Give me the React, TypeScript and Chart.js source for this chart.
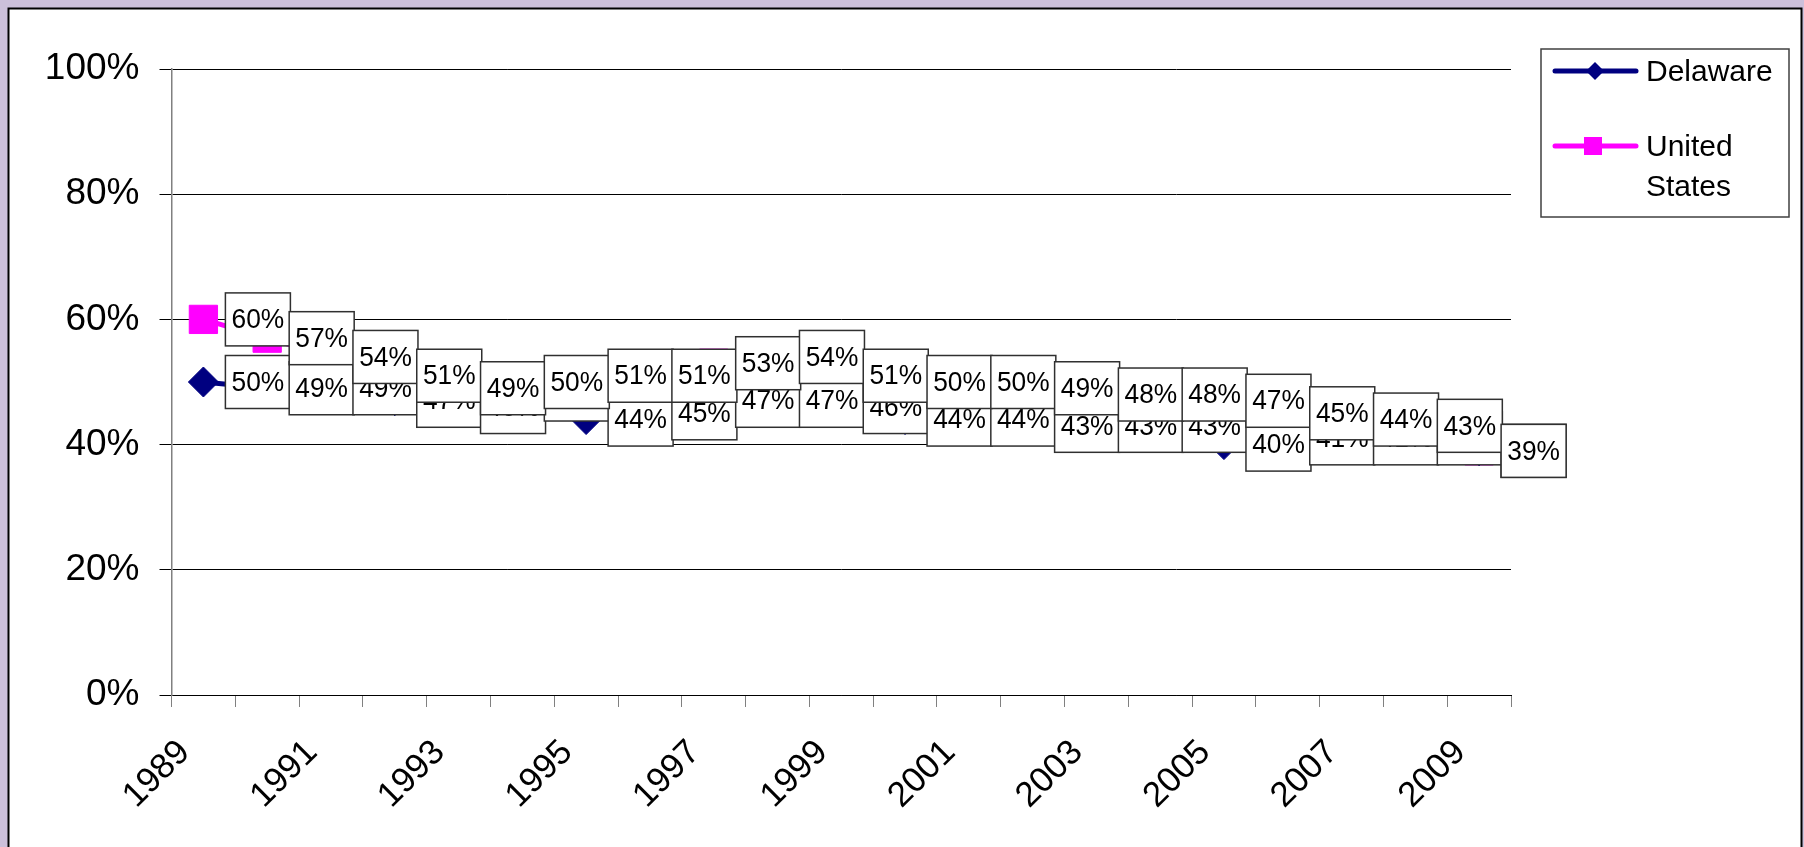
import React, { useEffect, useRef } from 'react';
import { Chart, registerables } from 'chart.js';

Chart.register(...registerables);

const years = ['1989', '1990', '1991', '1992', '1993', '1994', '1995', '1996', '1997', '1998', '1999', '2000', '2001', '2002', '2003', '2004', '2005', '2006', '2007', '2008', '2009'];
const delaware = [50, 49, 49, 47, 46, 48, 44, 45, 47, 47, 46, 44, 44, 43, 43, 43, 40, 41, 41, 41, 39];
const unitedStates = [60, 57, 54, 51, 49, 50, 51, 51, 53, 54, 51, 50, 50, 49, 48, 48, 47, 45, 44, 43, 39];
const seriesNames = ['Delaware', 'United States'];
const yTickStep = 20;
const yMax = 100;

const FONT = "Arial, 'Liberation Sans', sans-serif";
const NAVY = '#000080';
const MAGENTA = '#FF00FF';

const backgroundPlugin = {
  id: 'bgFrame',
  beforeDraw(chart: any) {
    const { ctx, width, height } = chart;
    ctx.save();
    ctx.fillStyle = '#CCC0DA';
    ctx.fillRect(0, 0, width, height);
    ctx.fillStyle = '#FFFFFF';
    ctx.fillRect(8, 8, 1794, height);
    ctx.strokeStyle = '#000000';
    ctx.lineWidth = 2;
    ctx.strokeRect(8.5, 8.5, 1793, height + 20);
    ctx.restore();
  },
};

const dataLabelPlugin = {
  id: 'boxLabels',
  afterDatasetsDraw(chart: any) {
    const { ctx } = chart;
    ctx.save();
    ctx.font = `28px ${FONT}`;
    const sx = 0.94;
    chart.data.datasets.forEach((ds: any, di: number) => {
      const meta = chart.getDatasetMeta(di);
      meta.data.forEach((pt: any, i: number) => {
        const v = ds.data[i];
        if (v == null) return;
        const text = `${v}%`;
        const w = Math.round(ctx.measureText(text).width * sx + 12);
        const h = 53;
        const left = pt.x + 22;
        const top = pt.y - h / 2;
        ctx.fillStyle = '#FFFFFF';
        ctx.fillRect(left, top, w, h);
        ctx.strokeStyle = '#303030';
        ctx.lineWidth = 1.5;
        ctx.strokeRect(left, top, w, h);
        ctx.save();
        ctx.translate(left + w / 2, pt.y + 1);
        ctx.scale(sx, 1);
        ctx.fillStyle = '#000000';
        ctx.textAlign = 'center';
        ctx.textBaseline = 'middle';
        ctx.fillText(text, 0, 0);
        ctx.restore();
      });
    });
    ctx.restore();
  },
};

const legendPlugin = {
  id: 'boxLegend',
  afterDraw(chart: any) {
    const { ctx } = chart;
    ctx.save();
    const bx = 1541, by = 49, bw = 248, bh = 168;
    ctx.fillStyle = '#FFFFFF';
    ctx.fillRect(bx, by, bw, bh);
    ctx.strokeStyle = '#404040';
    ctx.lineWidth = 1.5;
    ctx.strokeRect(bx, by, bw, bh);
    const ds = chart.data.datasets;
    // Delaware
    ctx.strokeStyle = ds[0].borderColor;
    ctx.lineWidth = 5;
    ctx.lineCap = 'round';
    ctx.beginPath();
    ctx.moveTo(1555, 71);
    ctx.lineTo(1636, 71);
    ctx.stroke();
    ctx.fillStyle = ds[0].borderColor;
    ctx.beginPath();
    ctx.moveTo(1595, 62);
    ctx.lineTo(1604, 71);
    ctx.lineTo(1595, 80);
    ctx.lineTo(1586, 71);
    ctx.closePath();
    ctx.fill();
    // United States
    ctx.strokeStyle = ds[1].borderColor;
    ctx.beginPath();
    ctx.moveTo(1555, 146);
    ctx.lineTo(1636, 146);
    ctx.stroke();
    ctx.fillStyle = ds[1].borderColor;
    ctx.fillRect(1584, 137, 18, 18);
    ctx.fillStyle = '#000000';
    ctx.font = `30px ${FONT}`;
    ctx.textAlign = 'left';
    ctx.textBaseline = 'alphabetic';
    ctx.fillText(ds[0].label, 1646, 81);
    const parts = String(ds[1].label).split(' ');
    ctx.fillText(parts[0], 1646, 156);
    ctx.fillText(parts.slice(1).join(' '), 1646, 196);
    ctx.restore();
  },
};

export default function App() {
  const canvasRef = useRef<HTMLCanvasElement | null>(null);

  useEffect(() => {
    const canvas = canvasRef.current;
    if (!canvas) return;
    const chart = new Chart(canvas, {
      type: 'line',
      data: {
        labels: years,
        datasets: [
          {
            label: seriesNames[0],
            data: delaware,
            borderColor: NAVY,
            backgroundColor: NAVY,
            borderWidth: 5,
            pointStyle: 'rectRot',
            pointRadius: 15,
            pointBorderWidth: 1,
            pointBackgroundColor: NAVY,
            pointBorderColor: NAVY,
            tension: 0,
            fill: false,
          },
          {
            label: seriesNames[1],
            data: unitedStates,
            borderColor: MAGENTA,
            backgroundColor: MAGENTA,
            borderWidth: 5,
            pointStyle: 'rect',
            pointRadius: 20,
            pointBorderWidth: 1,
            pointBackgroundColor: MAGENTA,
            pointBorderColor: MAGENTA,
            tension: 0,
            fill: false,
          },
        ],
      },
      options: {
        responsive: false,
        animation: false,
        devicePixelRatio: 1,
        layout: { padding: { left: 0, top: 69, right: 293, bottom: 0 } },
        plugins: {
          legend: { display: false },
          tooltip: { enabled: false },
          title: { display: false },
        },
        scales: {
          x: {
            type: 'category',
            offset: true,
            afterFit: (scale: any) => {
              scale.height = 152;
            },
            grid: {
              offset: true,
              drawOnChartArea: false,
              drawTicks: true,
              tickLength: 12,
              color: '#808080',
              lineWidth: 1,
            },
            border: { display: true, color: '#000000', width: 1 },
            ticks: {
              autoSkip: false,
              minRotation: 45,
              maxRotation: 45,
              padding: 25,
              labelOffset: -19,
              color: '#000000',
              font: { family: FONT, size: 35 },
              callback: (_v: any, i: number) => (i % 2 === 0 ? years[i] : ''),
            },
          },
          y: {
            min: 0,
            max: yMax,
            afterFit: (scale: any) => {
              scale.width = 171.5;
            },
            grid: {
              color: '#000000',
              lineWidth: 1,
              tickLength: 12,
              drawTicks: true,
            },
            border: { display: true, color: '#808080', width: 1.5 },
            ticks: {
              stepSize: yTickStep,
              padding: 20,
              color: '#000000',
              font: { family: FONT, size: 37 },
              callback: (v: any) => `${v}%`,
            },
          },
        },
      },
      plugins: [backgroundPlugin, dataLabelPlugin, legendPlugin],
    });
    return () => chart.destroy();
  }, []);

  return (
    <div style={{ position: 'fixed', left: 0, top: 0, width: 1804, height: 847, overflow: 'hidden' }}>
      <canvas ref={canvasRef} width={1804} height={847} style={{ display: 'block', width: 1804, height: 847 }} />
    </div>
  );
}
